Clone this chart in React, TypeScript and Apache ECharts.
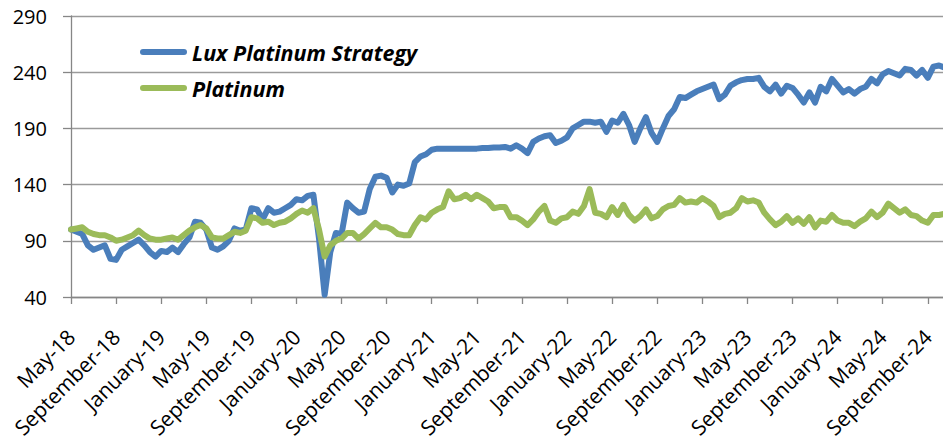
import React, { useEffect, useRef } from "react";
import * as echarts from "echarts";

// Time axis: months since May 2018, sampled every half month
const START_MONTH = 4; // May (0-based)
const START_YEAR = 2018;
const STEP_MONTHS = 0.5;
const X_MAX = 77.35;
const MONTH_NAMES = [
  "January", "February", "March", "April", "May", "June",
  "July", "August", "September", "October", "November", "December",
];

const seriesNames = ["Lux Platinum Strategy", "Platinum"];

const luxStrategy = [
  100, 98, 96, 86, 82, 84, 86, 74, 73, 82,
  85, 88, 91, 86, 80, 76, 81, 80, 84, 80,
  87, 93, 107, 106, 100, 84, 82, 85, 90, 101,
  99, 100, 119, 118, 109, 119, 115, 116, 119, 122,
  127, 126, 130, 131, 92, 42, 80, 97, 96, 124,
  119, 115, 116, 136, 147, 148, 146, 133, 140, 139,
  141, 160, 165, 167, 171, 172, 172, 172, 172, 172,
  172, 172, 172, 172.5, 172.5, 173, 173, 173.5, 172, 175,
  172, 168, 178, 181, 183, 184, 177, 179, 182, 190,
  193, 196, 196, 195, 196, 187, 197, 195, 203, 193,
  178, 190, 200, 186, 178, 190, 201, 207, 218, 217,
  220, 223, 225, 227, 229, 216, 220, 228, 231, 233,
  234, 234, 235, 227, 223, 229, 221, 228, 226, 220,
  213, 222, 213, 227, 223, 234, 228, 222, 225, 221,
  225, 227, 234, 230, 238, 241, 239, 237, 243, 242,
  237, 242, 235, 245, 246, 244,
];

const platinum = [
  100, 101, 102, 98, 96, 95, 95, 93, 90, 91,
  93, 95, 99, 95, 92, 91, 91, 92, 93, 91,
  95, 99, 102, 104, 101, 93, 92, 92, 95, 98,
  97, 99, 111, 110, 106, 107, 104, 106, 107, 110,
  114, 117, 115, 119, 100, 76, 86, 90, 92, 97,
  97, 92, 96, 101, 106, 102, 102, 100, 96, 95,
  95, 104, 111, 109, 115, 118, 120, 134, 127, 128,
  131, 127, 131, 128, 125, 119, 120, 120, 111, 111,
  108, 104, 109, 116, 121, 108, 106, 110, 111, 116,
  114, 121, 136, 115, 114, 111, 120, 113, 122, 113,
  108, 112, 118, 110, 112, 118, 121, 122, 128, 124,
  125, 124, 128, 125, 121, 111, 114, 115, 119, 128,
  125, 126, 124, 115, 109, 104, 107, 112, 106, 110,
  105, 111, 102, 108, 107, 113, 108, 106, 106, 103,
  107, 110, 116, 111, 115, 123, 119, 115, 118, 113,
  112, 108, 106, 113, 113, 114,
];

const yMin = 40;
const yMax = 290;
const yInterval = 50;
const xInterval = 4;

const FONT = "'Open Sans', sans-serif";

function monthLabel(v: number): string {
  const idx = START_MONTH + Math.round(v);
  const year = (START_YEAR + Math.floor(idx / 12)) % 100;
  return MONTH_NAMES[idx % 12] + "-" + String(year).padStart(2, "0");
}

export default function App() {
  const ref = useRef<HTMLDivElement>(null);

  useEffect(() => {
    if (!ref.current) return;
    const chart = echarts.init(ref.current, undefined, { renderer: "svg" });
    const toPairs = (arr: number[]) => arr.map((v, i) => [i * STEP_MONTHS, v]);
    const capsule = "path://M3,0 L44,0 A3,3 0 0 1 44,6 L3,6 A3,3 0 0 1 3,0 Z";

    chart.setOption({
      animation: false,
      backgroundColor: "#ffffff",
      grid: { left: 71, top: 16, right: 0, bottom: 148, containLabel: false },
      legend: {
        orient: "vertical",
        left: 140,
        top: 40,
        padding: 0,
        itemWidth: 47,
        itemHeight: 6,
        itemGap: 12,
        textStyle: {
          fontFamily: FONT,
          fontSize: 21.5,
          fontWeight: "bold",
          fontStyle: "italic",
          color: "#000",
          lineHeight: 24,
        },
        data: [
          { name: seriesNames[0], icon: capsule },
          { name: seriesNames[1], icon: capsule },
        ],
      },
      xAxis: {
        type: "value",
        min: 0,
        max: X_MAX,
        interval: xInterval,
        axisLine: { show: true, lineStyle: { color: "#868686", width: 1.3 } },
        axisTick: { show: true, length: 7, lineStyle: { color: "#868686", width: 1.3 } },
        splitLine: { show: false },
        axisLabel: {
          rotate: 45,
          margin: 36,
          fontFamily: FONT,
          fontSize: 21,
          color: "#000",
          showMaxLabel: false,
          formatter: (v: number) => monthLabel(v),
        },
      },
      yAxis: {
        type: "value",
        min: yMin,
        max: yMax,
        interval: yInterval,
        axisLine: { show: true, lineStyle: { color: "#868686", width: 1.3 } },
        axisTick: { show: true, length: 8, lineStyle: { color: "#868686", width: 1.3 } },
        splitLine: { show: true, lineStyle: { color: "#9a9a9a", width: 1.3 } },
        axisLabel: {
          margin: 24,
          fontFamily: FONT,
          fontSize: 20,
          color: "#000",
        },
      },
      series: [
        {
          name: seriesNames[0],
          type: "line",
          data: toPairs(luxStrategy),
          showSymbol: false,
          symbol: "none",
          color: "#4A7EBB",
          lineStyle: { width: 6, color: "#4A7EBB", join: "round", cap: "round" },
        },
        {
          name: seriesNames[1],
          type: "line",
          data: toPairs(platinum),
          showSymbol: false,
          symbol: "none",
          color: "#9BBB59",
          lineStyle: { width: 6, color: "#9BBB59", join: "round", cap: "round" },
        },
      ],
    });

    return () => chart.dispose();
  }, []);

  return (
    <div
      ref={ref}
      style={{ position: "absolute", left: 0, top: 0, width: 943, height: 445 }}
    />
  );
}
